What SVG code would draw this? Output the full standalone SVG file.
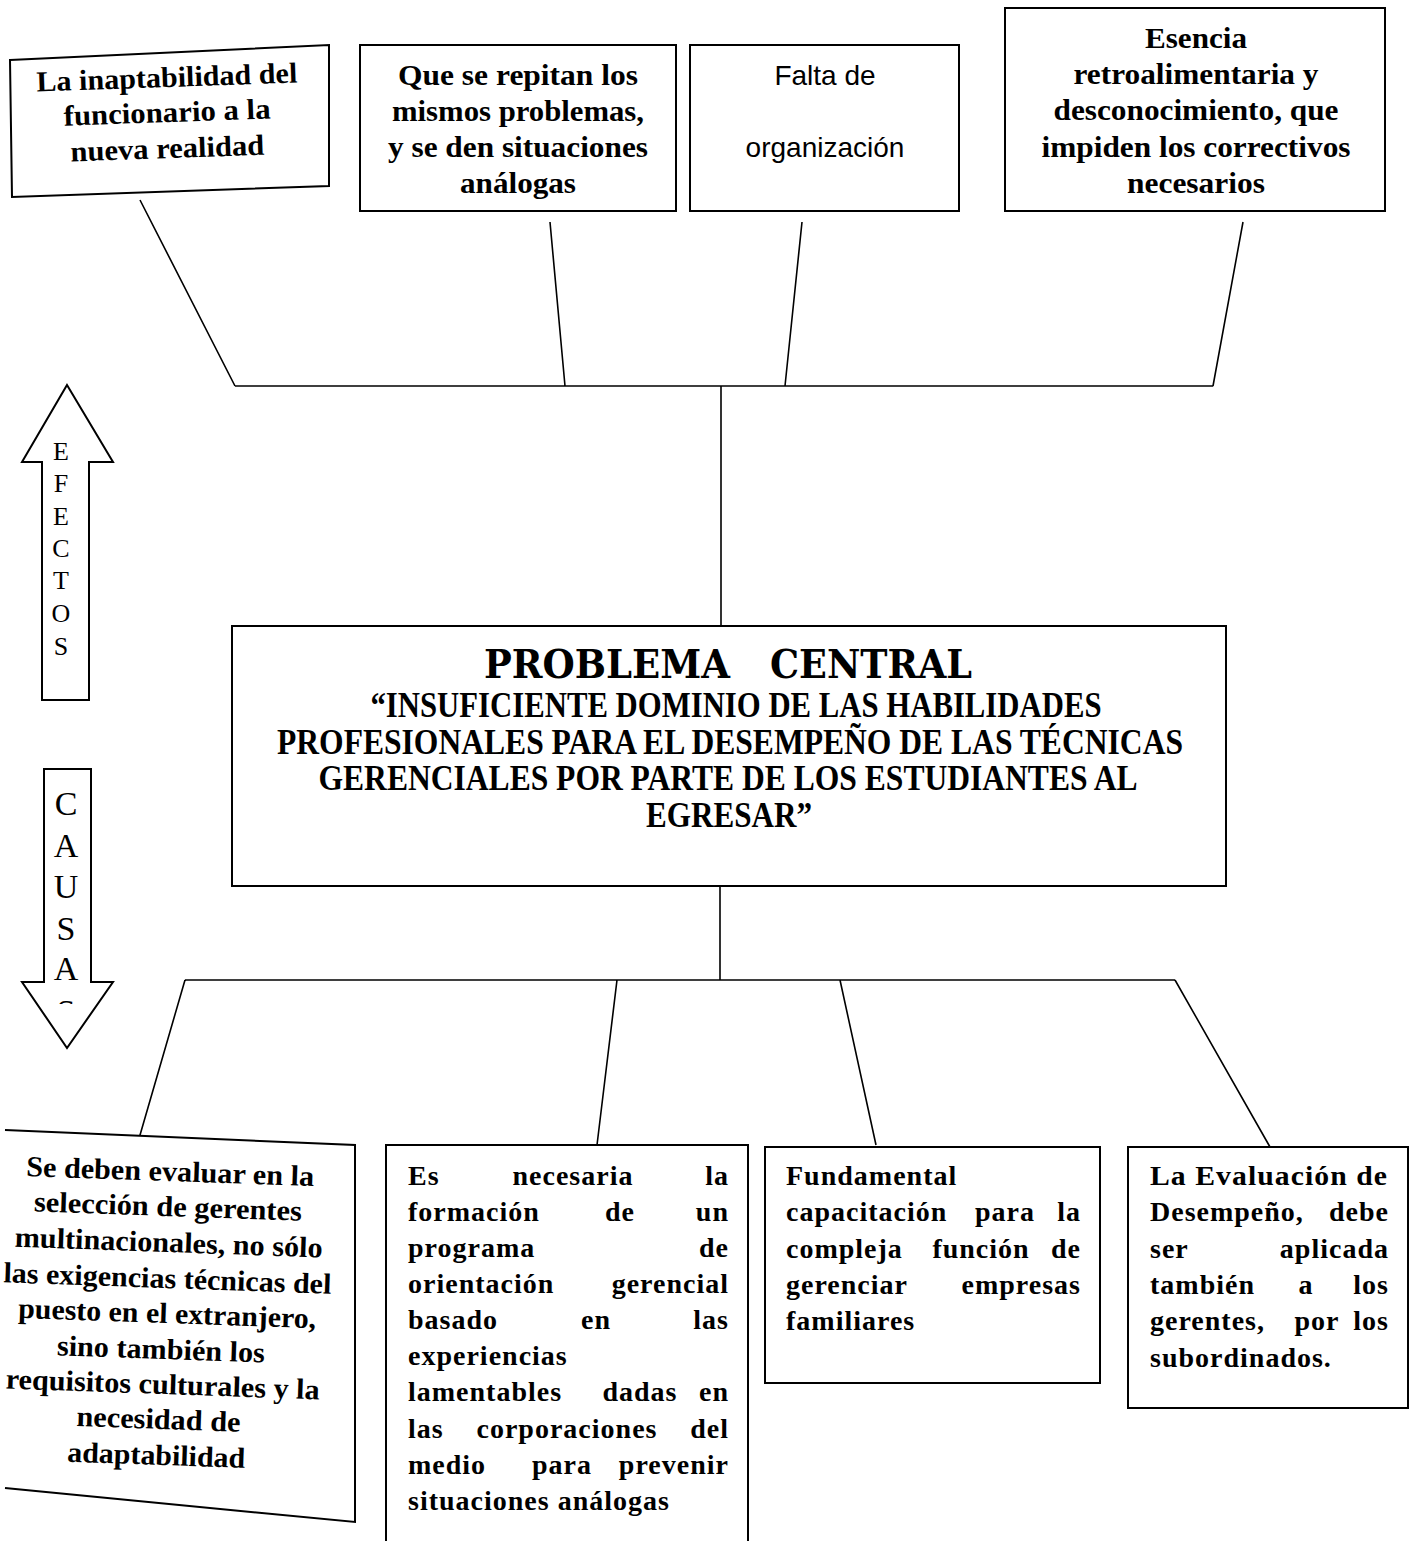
<svg xmlns="http://www.w3.org/2000/svg" width="1413" height="1541" viewBox="0 0 1413 1541">
<style>
.box{fill:#fff;stroke:#000;stroke-width:2}
.ln{fill:none;stroke:#000;stroke-width:1.6}
.t{font-family:"Liberation Serif","Times New Roman",serif;font-weight:bold;font-size:28px;letter-spacing:1px;fill:#000}
.u{font-family:"Liberation Serif","Times New Roman",serif;font-weight:bold;font-size:29px;fill:#000;text-anchor:middle}
.c{text-anchor:middle}
.e{text-anchor:end}
.s{font-family:"Liberation Sans",Arial,sans-serif;font-size:28px;fill:#000;text-anchor:middle}
.ar{font-family:"Liberation Serif","Times New Roman",serif;fill:#000;text-anchor:middle}
.pc{font-family:"DejaVu Serif",serif;font-weight:bold;font-size:40px;fill:#000}
.sub{font-family:"Liberation Serif","Times New Roman",serif;font-weight:bold;font-size:36px;fill:#000;text-anchor:middle}
</style>
<defs>
<clipPath id="clipS"><rect x="0" y="960" width="130" height="44"/></clipPath>
</defs>
<rect width="1413" height="1541" fill="#fff"/>

<g id="connectors">
<path class="ln" d="M140,200 L235,386 M550,222 L565,386 M802,222 L785,386 M1243,222 L1213,386 M235,386 L1213,386 M721,386 L721,626"/>
<path class="ln" d="M720,886 L720,980 M185,980 L1175,980 M185,980 L138,1142 M617,980 L597,1145 M840,980 L876,1145 M1175,980 L1270,1147"/>
</g>

<g id="effect1">
<path class="box" d="M10,60 L329,45 L329,186 L12,197 Z"/>
<g transform="rotate(-2 168 112)">
<text class="u" x="168" y="87" textLength="261" lengthAdjust="spacingAndGlyphs">La inaptabilidad del</text>
<text class="u" x="167" y="122" textLength="207" lengthAdjust="spacingAndGlyphs">funcionario a la</text>
<text class="u" x="166" y="158" textLength="194" lengthAdjust="spacingAndGlyphs">nueva realidad</text>
</g>
</g>

<g id="effect2">
<rect class="box" x="360" y="45" width="316" height="166"/>
<text class="u" x="518" y="85" textLength="240" lengthAdjust="spacingAndGlyphs">Que se repitan los</text>
<text class="u" x="518" y="121" textLength="252" lengthAdjust="spacingAndGlyphs">mismos problemas,</text>
<text class="u" x="518" y="157" textLength="260" lengthAdjust="spacingAndGlyphs">y se den situaciones</text>
<text class="u" x="518" y="193" textLength="116" lengthAdjust="spacingAndGlyphs">análogas</text>
</g>

<g id="effect3">
<rect class="box" x="690" y="45" width="269" height="166"/>
<text class="s" x="825" y="85">Falta de</text>
<text class="s" x="825" y="157">organización</text>
</g>

<g id="effect4">
<rect class="box" x="1005" y="8" width="380" height="203"/>
<text class="u" x="1196" y="48" textLength="102" lengthAdjust="spacingAndGlyphs">Esencia</text>
<text class="u" x="1196" y="84" textLength="245" lengthAdjust="spacingAndGlyphs">retroalimentaria y</text>
<text class="u" x="1196" y="120" textLength="285" lengthAdjust="spacingAndGlyphs">desconocimiento, que</text>
<text class="u" x="1196" y="157" textLength="309" lengthAdjust="spacingAndGlyphs">impiden los correctivos</text>
<text class="u" x="1196" y="193" textLength="138" lengthAdjust="spacingAndGlyphs">necesarios</text>
</g>

<g id="efectos-arrow">
<path class="box" d="M67,385 L113,462 L89,462 L89,700 L42,700 L42,462 L22,462 Z"/>
<text class="ar" x="61" y="460" font-size="26">E</text>
<text class="ar" x="61" y="492" font-size="26">F</text>
<text class="ar" x="61" y="525" font-size="26">E</text>
<text class="ar" x="61" y="557" font-size="26">C</text>
<text class="ar" x="61" y="589" font-size="26">T</text>
<text class="ar" x="61" y="622" font-size="26">O</text>
<text class="ar" x="61" y="655" font-size="26">S</text>
</g>

<g id="central">
<rect class="box" x="232" y="626" width="994" height="260"/>
<text class="pc" x="484" y="678" textLength="246" lengthAdjust="spacingAndGlyphs">PROBLEMA</text>
<text class="pc" x="770" y="678" textLength="202" lengthAdjust="spacingAndGlyphs">CENTRAL</text>
<text class="sub" x="736" y="717" textLength="731" lengthAdjust="spacingAndGlyphs">“INSUFICIENTE DOMINIO DE LAS HABILIDADES</text>
<text class="sub" x="730" y="754" textLength="906" lengthAdjust="spacingAndGlyphs">PROFESIONALES PARA EL DESEMPEÑO DE LAS TÉCNICAS</text>
<text class="sub" x="728" y="790" textLength="819" lengthAdjust="spacingAndGlyphs">GERENCIALES POR PARTE DE LOS ESTUDIANTES AL</text>
<text class="sub" x="729" y="827" textLength="166" lengthAdjust="spacingAndGlyphs">EGRESAR”</text>
</g>

<g id="causas-arrow">
<path class="box" d="M44,769 L91,769 L91,982 L113,982 L67,1048 L22,982 L44,982 Z"/>
<text class="ar" x="66" y="815" font-size="34">C</text>
<text class="ar" x="66" y="857" font-size="34">A</text>
<text class="ar" x="66" y="898" font-size="34">U</text>
<text class="ar" x="66" y="940" font-size="34">S</text>
<text class="ar" x="66" y="980" font-size="34">A</text>
<text class="ar" x="66" y="1023" font-size="34" clip-path="url(#clipS)">S</text>
</g>

<g id="cause1">
<path class="box" d="M5,1130 L355,1145 L355,1522 L5,1488"/>
<g transform="rotate(2 165 1320)">
<text class="u" x="165" y="1181" textLength="288" lengthAdjust="spacingAndGlyphs">Se deben evaluar en la</text>
<text class="u" x="164" y="1216" textLength="268" lengthAdjust="spacingAndGlyphs">selección de gerentes</text>
<text class="u" x="166" y="1252" textLength="308" lengthAdjust="spacingAndGlyphs">multinacionales, no sólo</text>
<text class="u" x="166" y="1288" textLength="328" lengthAdjust="spacingAndGlyphs">las exigencias técnicas del</text>
<text class="u" x="167" y="1323" textLength="298" lengthAdjust="spacingAndGlyphs">puesto en el extranjero,</text>
<text class="u" x="162" y="1359" textLength="208" lengthAdjust="spacingAndGlyphs">sino también los</text>
<text class="u" x="165" y="1394" textLength="314" lengthAdjust="spacingAndGlyphs">requisitos culturales y la</text>
<text class="u" x="162" y="1429" textLength="164" lengthAdjust="spacingAndGlyphs">necesidad de</text>
<text class="u" x="161" y="1465" textLength="178" lengthAdjust="spacingAndGlyphs">adaptabilidad</text>
</g>
</g>

<g id="cause2">
<rect class="box" x="386" y="1145" width="362" height="400"/>
<text class="t" x="408" y="1185">Es</text><text class="t c" x="573" y="1185">necesaria</text><text class="t e" x="729" y="1185">la</text>
<text class="t" x="408" y="1221">formación</text><text class="t c" x="620" y="1221">de</text><text class="t e" x="729" y="1221">un</text>
<text class="t" x="408" y="1257">programa</text><text class="t e" x="729" y="1257">de</text>
<text class="t" x="408" y="1293">orientación</text><text class="t e" x="729" y="1293">gerencial</text>
<text class="t" x="408" y="1329">basado</text><text class="t c" x="596" y="1329">en</text><text class="t e" x="729" y="1329">las</text>
<text class="t" x="408" y="1365">experiencias</text>
<text class="t" x="408" y="1401">lamentables</text><text class="t c" x="640" y="1401">dadas</text><text class="t e" x="729" y="1401">en</text>
<text class="t" x="408" y="1438">las</text><text class="t c" x="567" y="1438">corporaciones</text><text class="t e" x="729" y="1438">del</text>
<text class="t" x="408" y="1474">medio</text><text class="t c" x="562" y="1474">para</text><text class="t e" x="729" y="1474">prevenir</text>
<text class="t" x="408" y="1510">situaciones análogas</text>
</g>

<g id="cause3">
<rect class="box" x="765" y="1147" width="335" height="236"/>
<text class="t" x="786" y="1185">Fundamental</text>
<text class="t" x="786" y="1221">capacitación</text><text class="t c" x="1005" y="1221">para</text><text class="t e" x="1081" y="1221">la</text>
<text class="t" x="786" y="1258">compleja</text><text class="t c" x="981" y="1258">función</text><text class="t e" x="1081" y="1258">de</text>
<text class="t" x="786" y="1294">gerenciar</text><text class="t e" x="1081" y="1294">empresas</text>
<text class="t" x="786" y="1330">familiares</text>
</g>

<g id="cause4">
<rect class="box" x="1128" y="1147" width="280" height="261"/>
<text class="t" x="1150" y="1185" textLength="238" lengthAdjust="spacingAndGlyphs">La Evaluación de</text>
<text class="t" x="1150" y="1221">Desempeño,</text><text class="t e" x="1389" y="1221">debe</text>
<text class="t" x="1150" y="1258">ser</text><text class="t e" x="1389" y="1258">aplicada</text>
<text class="t" x="1150" y="1294">también</text><text class="t c" x="1306" y="1294">a</text><text class="t e" x="1389" y="1294">los</text>
<text class="t" x="1150" y="1330">gerentes,</text><text class="t c" x="1317" y="1330">por</text><text class="t e" x="1389" y="1330">los</text>
<text class="t" x="1150" y="1367">subordinados.</text>
</g>
</svg>
